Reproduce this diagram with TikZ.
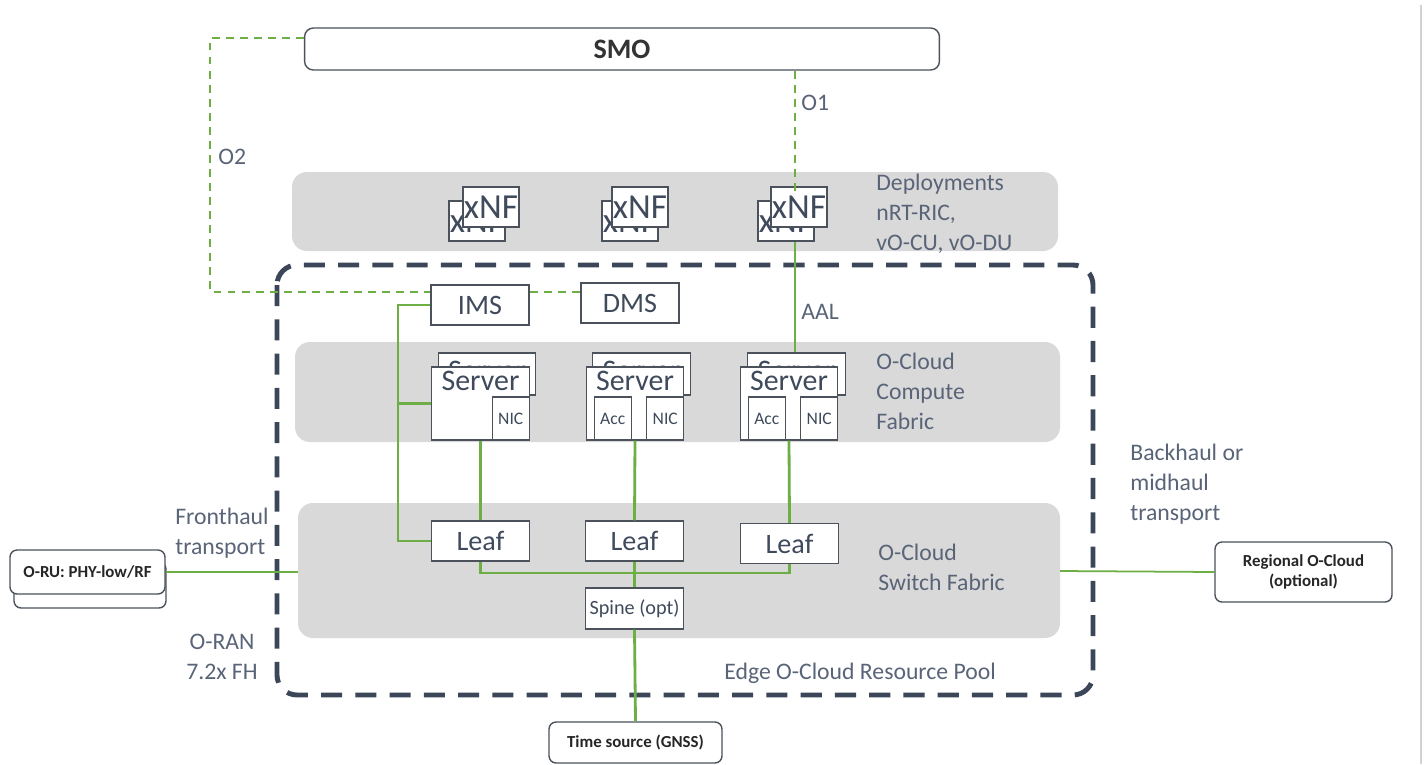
\documentclass[tikz,border=0pt]{standalone}
\usepackage{fontspec}
\setmainfont{Carlito}
\usepackage{tikz}
\usetikzlibrary{positioning}

\definecolor{bandgray}{HTML}{D9D9D9}
\definecolor{poolc}{HTML}{3B4658}
\definecolor{linkgreen}{HTML}{6DAE45}
\definecolor{boxline}{HTML}{4B525B}
\definecolor{txtc}{HTML}{3F4A5C}
\definecolor{notec}{HTML}{5A6478}

\tikzset{
  box/.style={draw=boxline, line width=0.8pt, fill=white, inner sep=0pt, text=txtc},
  rbox/.style={box, rounded corners=4pt, align=center, text=black!85,
    font=\fontsize{9.6}{11.5}\selectfont\bfseries},
  smostyle/.style={box, rounded corners=5pt, minimum width=12.7cm, minimum height=0.84cm,
    text=black!80, font=\fontsize{16}{19}\selectfont\bfseries},
  xnf/.style={box, minimum width=1.12cm, minimum height=0.8cm, font=\fontsize{20}{24}\selectfont},
  srvbox/.style={box, minimum width=1.95cm},
  srv/.style={srvbox, minimum height=1.46cm,
    label={[anchor=north, inner sep=2.5pt, text=txtc, font=\fontsize{17}{20}\selectfont]north:Server}},
  srvback/.style={srvbox, minimum height=0.84cm,
    label={[anchor=north, inner sep=5pt, text=txtc, font=\fontsize{17}{20}\selectfont]north:Server}},
  card/.style={box, minimum width=0.74cm, minimum height=0.86cm, font=\fontsize{10}{12}\selectfont},
  sw/.style={box, minimum width=1.96cm, minimum height=0.8cm, font=\fontsize{16}{19}\selectfont},
  notes/.style={text=notec, font=\fontsize{13.5}{17}\selectfont, align=left, inner sep=0pt},
  band/.style={fill=bandgray, rounded corners=0.3cm},
  pool/.style={draw=poolc, line width=2.8pt, dash pattern=on 12pt off 7.5pt, rounded corners=0.4cm},
  link/.style={draw=linkgreen, line width=1.6pt},
  thinlink/.style={draw=linkgreen, line width=1pt},
  oif/.style={draw=linkgreen, line width=1.1pt, dash pattern=on 4.5pt off 3.5pt},
}

\begin{document}
\begin{tikzpicture}[x=0.02cm, y=-0.02cm]
  \fill[white] (0,0) rectangle (1427,764);
  % bands
  \fill[band] (292,172) rectangle (1058,251);
  \fill[band] (295,342) rectangle (1060,442);
  \fill[band] (298,503) rectangle (1060,638);
  % edge resource pool
  \draw[pool] (277,265) rectangle (1093,695);
  \draw[gray!35, line width=1pt] (1421,5) -- (1421,764);

  \node[smostyle] (smo) at (622,49) {SMO};

  % xNF deployments
  \node[xnf] (xnfb1) at (477,221) {xNF};
  \node[xnf] (xnf1) at (491,207) {xNF};
  \node[xnf] (xnfb2) at (630,221) {xNF};
  \node[xnf] (xnf2) at (640,207) {xNF};
  \node[xnf] (xnfb3) at (786,221) {xNF};
  \node[xnf] (xnf3) at (799,207) {xNF};

  \node[sw] (ims) at (480,305) {IMS};
  \node[sw] (dms) at (630,303) {DMS};

  % servers
  \node[srvback] (srvb1) at (487,374) {};
  \node[srv] (srv1) at (480.5,403.5) {};
  \node[srvback] (srvb2) at (641.5,374) {};
  \node[srv] (srv2) at (635,403.5) {};
  \node[srvback] (srvb3) at (796.5,374) {};
  \node[srv] (srv3) at (789,403.5) {};
  \node[card, anchor=south east] (nic1) at (srv1.south east) {NIC};
  \node[card, anchor=south east] (nic2) at (srv2.south east) {NIC};
  \node[card, anchor=south west] (acc2) at ([xshift=0.16cm]srv2.south west) {Acc};
  \node[card, anchor=south east] (nic3) at (srv3.south east) {NIC};
  \node[card, anchor=south west] (acc3) at ([xshift=0.16cm]srv3.south west) {Acc};

  % switch fabric
  \node[sw] (leaf1) at (480.5,541) {Leaf};
  \node[sw] (leaf2) at (634.5,541) {Leaf};
  \node[sw] (leaf3) at (789.5,543.5) {Leaf};
  \node[sw, font=\fontsize{11.5}{14}\selectfont, minimum height=0.82cm] (spine) at (634.5,608.5) {Spine (opt)};

  % outer boxes
  \node[rbox, minimum width=3.04cm, minimum height=0.92cm] (orub) at (90,585) {};
  \node[rbox, minimum width=3.1cm, minimum height=0.88cm] (oru) at (87.5,572) {O-RU: PHY-low/RF};
  \node[rbox, minimum width=3.54cm, minimum height=1.2cm] (regional) at (1303.5,572) {Regional O-Cloud\\(optional)};
  \node[rbox, minimum width=3.46cm, minimum height=0.82cm] (time) at (635.5,742.5) {Time source (GNSS)};

  % green links
  \coordinate (busl) at (398,0);
  \coordinate (busb) at (0,573);
  \draw[link] (ims.west) -- (ims.west -| busl) |- (leaf1.west);
  \draw[link] (srv1.west -| busl) -- (srv1.west);
  \draw[link] (srv1.south) -- (leaf1.north);
  \draw[link] (srv2.south) -- (leaf2.north);
  \draw[link] (srv3.south) -- (leaf3.north);
  \draw[link] (leaf1.south) |- (leaf2.south |- busb) -| (leaf3.south);
  \draw[link] (leaf2.south) -- (spine.north);
  \draw[link] (spine.south) -- (time.north);

  \coordinate (fh) at (298,572);
  \coordinate (bh) at (1060,571);
  \draw[thinlink] (oru.east) -- (fh);
  \draw[thinlink] (bh) -- (regional.west);

  % O1 / O2
  \coordinate (o1x) at (795,0);
  \draw[oif] (smo.south -| o1x) -- ([yshift=-0.1cm]xnf3.north -| o1x);
  \draw[thinlink] (xnfb3.south -| o1x) -- (srvb3.north -| o1x);
  \coordinate (o2top) at (210,38);
  \coordinate (o2bot) at (210,292);
  \draw[oif] (smo.west |- o2top) -- (o2top) -- (o2bot) -- (o2bot -| ims.west);
  \draw[oif] (ims.east |- o2bot) -- (dms.west |- o2bot);

  % labels
  \node[notes, anchor=west] (o2lbl) at (218,157) {O2};
  \node[notes, anchor=west] (o1lbl) at (801,103) {O1};
  \node[notes, anchor=west] (aallbl) at (801,312) {AAL};
  \node[notes, anchor=north west] (deplbl) at (876,174) {Deployments\\nRT-RIC,\\vO-CU, vO-DU};
  \node[notes, anchor=north west] (cmplbl) at (876,353) {O-Cloud\\Compute\\Fabric};
  \node[notes, anchor=north west] (swlbl) at (878,544) {O-Cloud\\Switch Fabric};
  \node[notes, anchor=north west] (bhlbl) at (1130,444) {Backhaul or\\midhaul\\transport};
  \node[notes, anchor=north west] (fhlbl) at (175,508) {Fronthaul\\transport};
  \node[notes, anchor=north, align=center] (ranlbl) at (222,634) {O-RAN\\7.2x FH};
  \node[notes, anchor=west] (poollbl) at (724,673) {Edge O-Cloud Resource Pool};
\end{tikzpicture}
\end{document}
